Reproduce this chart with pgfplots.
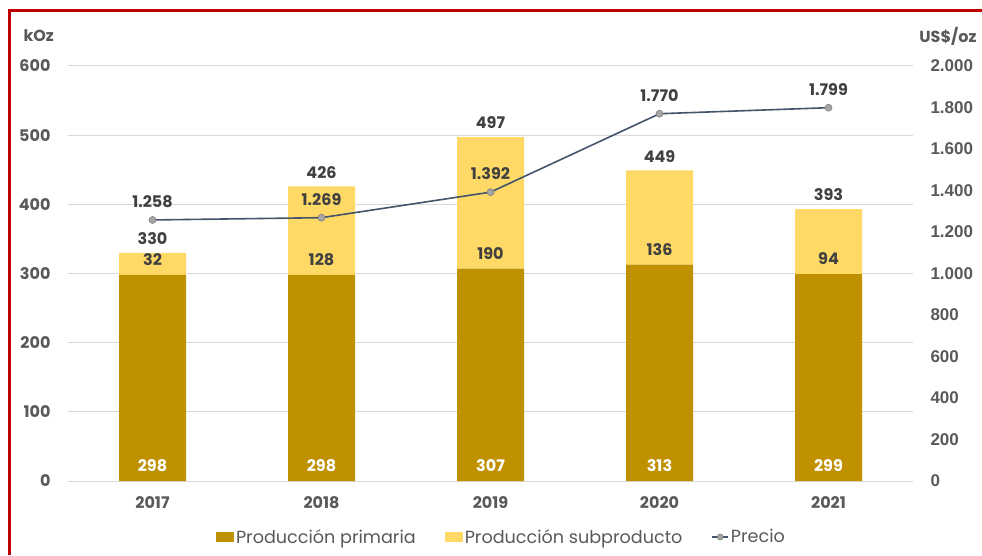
\documentclass[border=0pt]{standalone}
\usepackage{fontspec}
\setmainfont{Poppins}
\newfontfamily\arial{Liberation Sans}
\usepackage{pgfplots}
\pgfplotsset{compat=1.18}

\definecolor{primcol}{HTML}{BF9000}
\definecolor{subcol}{HTML}{FFD966}
\definecolor{linecol}{HTML}{44546A}
\definecolor{markcol}{HTML}{A5A5A5}
\definecolor{markedge}{HTML}{7F7F7F}
\definecolor{gridcol}{HTML}{D9D9D9}
\definecolor{labcol}{HTML}{404040}
\definecolor{tickcol}{HTML}{595959}
\definecolor{framecol}{HTML}{C00000}

\newcommand\fs{\fontsize{16}{19}\selectfont}

\pgfplotsset{
  base/.style={
    at={(68pt,74pt)}, anchor=south west,
    scale only axis, width=845pt, height=415pt,
    xmin=-0.5, xmax=4.5,
    major tick length=0pt,
    axis line style={draw=none},
  },
  pricelegend/.style={
    legend image code/.code={\draw[##1, sharp plot, mark repeat=2, mark phase=2]
      plot coordinates {(0pt,0pt) (8pt,0pt) (16pt,0pt)};}},
}

\begin{document}
\begin{tikzpicture}
\useasboundingbox (0,0) rectangle (982pt,555pt);
\draw[framecol, line width=3pt] (9.5pt,0pt) -- (9.5pt,544pt) -- (982pt,544pt);

% bars
\begin{axis}[
  base,
  ybar stacked, bar width=67pt,
  ymin=0, ymax=600,
  ytick={0,100,...,600},
  yticklabels={0,100,200,300,400,500,600},
  yticklabel style={font=\fs\bfseries, text=tickcol, anchor=east, xshift=-14pt},
  xtick={0,...,4},
  xticklabels={2017,2018,2019,2020,2021},
  xticklabel style={font=\fs\bfseries, text=tickcol, anchor=north, yshift=-12pt},
  ymajorgrids=true,
  grid style={gridcol, line width=1pt},
  legend style={at={(0.513,-0.135)}, anchor=center, draw=none, fill=none,
    font=\fontsize{17.6}{20}\selectfont, text=tickcol, legend columns=3,
    /tikz/every even column/.append style={column sep=27pt}},
  legend cell align=left,
]
\addplot[fill=primcol, draw=none,
  legend image code/.code={\fill[primcol] (0pt,-5pt) rectangle (18pt,5pt);}]
  coordinates {(0,298) (1,298) (2,307) (3,313) (4,299)};
\addplot[fill=subcol, draw=none,
  legend image code/.code={\fill[subcol] (0pt,-5pt) rectangle (18pt,5pt);}]
  coordinates {(0,32) (1,128) (2,190) (3,136) (4,94)};
\addlegendimage{linecol, line width=1.5pt, mark=*, mark size=3pt,
  mark options={fill=markcol, draw=markedge, line width=0.6pt}, pricelegend}
\legend{Producción primaria, Producción subproducto, Precio}
\end{axis}

% labels of the bars
\begin{axis}[
  base, hide axis,
  ymin=0, ymax=600,
  nodes near coords,
  point meta=explicit symbolic,
  nodes near coords style={font=\fs\bfseries, anchor=south, inner sep=0pt, yshift=9pt},
]
\addplot[draw=none, mark=none, nodes near coords style={text=white}]
  coordinates {(0,0)[298] (1,0)[298] (2,0)[307] (3,0)[313] (4,0)[299]};
\addplot[draw=none, mark=none, nodes near coords style={text=labcol}]
  coordinates {(0,298)[32] (1,298)[128] (2,307)[190] (3,313)[136] (4,299)[94]};
\addplot[draw=none, mark=none, nodes near coords style={text=labcol, yshift=-1pt}]
  coordinates {(0,330)[330] (1,426)[426] (2,497)[497] (3,449)[449] (4,393)[393]};
\end{axis}

% price
\begin{axis}[
  base,
  ymin=0, ymax=2000,
  axis x line=none,
  ytick={0,200,...,2000},
  yticklabels={0,200,400,600,800,1.000,1.200,1.400,1.600,1.800,2.000},
  yticklabel pos=right,
  yticklabel style={font=\arial\fontsize{17}{20}\selectfont\bfseries, text=tickcol, anchor=west, xshift=14pt},
  nodes near coords,
  point meta=explicit symbolic,
  nodes near coords style={font=\fs\bfseries, text=labcol, anchor=south, inner sep=0pt, yshift=12pt},
]
\addplot[linecol, line width=1.6pt, mark=*, mark size=3.5pt,
  mark options={fill=markcol, draw=markedge, line width=0.6pt}]
  coordinates {(0,1258)[1.258] (1,1269)[1.269] (2,1392)[1.392] (3,1770)[1.770] (4,1799)[1.799]};
\end{axis}

\node[anchor=west, font=\fs\bfseries, text=tickcol] at (20pt,519pt) {kOz};
\node[anchor=east, font=\fs\bfseries, text=tickcol] at (980pt,519pt) {US\$/oz};
\end{tikzpicture}
\end{document}
